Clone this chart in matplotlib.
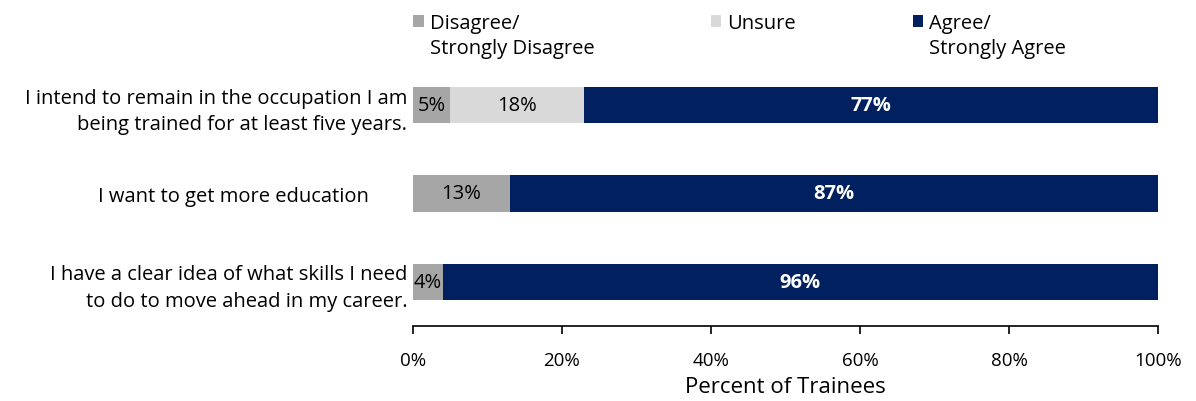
import matplotlib
matplotlib.use("Agg")
from matplotlib import pyplot as plt
from matplotlib.patches import Patch
from matplotlib.transforms import ScaledTranslation
import numpy as np

# Survey statements (top to bottom)
statements = [
    "I intend to remain in the occupation I am\nbeing trained for at least five years.",
    "I want to get more education",
    "I have a clear idea of what skills I need\nto do to move ahead in my career.",
]
disagree = [5, 13, 4]
unsure = [18, 0, 0]
agree = [77, 87, 96]

series_names = ["Disagree/\nStrongly Disagree", "Unsure", "Agree/\nStrongly Agree"]
colors = ["#A6A6A6", "#D9D9D9", "#002060"]
xticks = [0, 20, 40, 60, 80, 100]

plt.rcParams['font.family'] = ['Open Sans', 'DejaVu Sans']
fs = 14.5

fig = plt.figure(figsize=(11.96, 4.02), dpi=100)
ax = fig.add_axes([0.3453, 0.1866, 0.9682 - 0.3453, 0.8458 - 0.1866])

y = np.arange(len(statements))
h = 0.41
left = np.zeros(len(statements))
for vals, name, col in zip([disagree, unsure, agree], series_names, colors):
    vals = np.array(vals, dtype=float)
    bars = ax.barh(y, vals, left=left, height=h, color=col, label=name)
    labels = [f"{v:.0f}%" if v > 0 else "" for v in vals]
    if col == "#002060":
        ax.bar_label(bars, labels=labels, label_type='center', color='white',
                     fontsize=14.5, fontweight='bold')
    else:
        ax.bar_label(bars, labels=labels, label_type='center', color='black',
                     fontsize=14.5)
    left += vals

ax.set_xlim(0, 100)
ax.set_ylim(2.5, -0.5)
ax.set_xticks(xticks)
ax.set_xticklabels([f"{t}%" for t in xticks], fontsize=13.5)
ax.set_yticks(y)
ax.set_yticklabels(statements, fontsize=fs, ha='right', multialignment='right',
                   linespacing=1.45)
ax.tick_params(axis='y', length=0, pad=4)
ax.tick_params(axis='x', direction='out', length=6, width=1.2, pad=12)
for s in ['top', 'right', 'left']:
    ax.spines[s].set_visible(False)
ax.spines['bottom'].set_linewidth(1.2)
ax.set_xlabel("Percent of Trainees", fontsize=16, labelpad=5)

# middle label sits further left in the original
lbl = ax.get_yticklabels()[1]
lbl.set_transform(lbl.get_transform() + ScaledTranslation(-0.39, 0, fig.dpi_scale_trans))

# legend: first line with the square, second line without
first = [n.split("\n")[0] for n in series_names]
second = [n.split("\n")[1] if "\n" in n else "" for n in series_names]
handles, labs = [], []
for c, a, b in zip(colors, first, second):
    handles += [Patch(facecolor=c), Patch(facecolor='none', edgecolor='none')]
    labs += [a, b]
fig.legend(handles, labs, ncol=3, loc='upper left', bbox_to_anchor=(0.339, 0.985),
           frameon=False, fontsize=fs, handlelength=0.5, handleheight=0.5,
           handletextpad=0.3, columnspacing=5.8, labelspacing=0.25,
           borderaxespad=0.2, borderpad=0.2)

fig.savefig("out.png", dpi=100)
